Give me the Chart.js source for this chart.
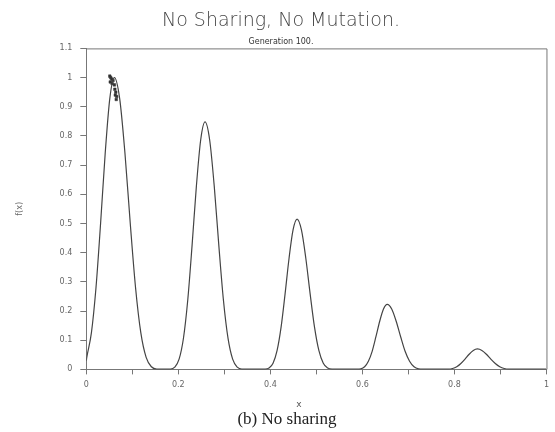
<!DOCTYPE html>
<html>
<head>
<meta charset="utf-8">
<script src="https://cdn.jsdelivr.net/npm/chart.js@4.4.1/dist/chart.umd.min.js"></script>
<style>
  html, body { margin: 0; padding: 0; background: #fff; }
  #contenedor { width: 555px; height: 432px; position: relative; }
</style>
</head>
<body>
<div id="contenedor"><canvas id="grafica" width="555" height="432"></canvas></div>
<script>
// Curva f(x)
const curvaX = [
  0, 0.001, 0.011, 0.021, 0.031, 0.041, 0.051, 0.061, 0.0725, 0.084, 0.0955, 0.107, 0.1185, 0.13, 0.1415, 0.153,
  0.183, 0.1922, 0.2016, 0.211, 0.2204, 0.2298, 0.2392, 0.2486, 0.258, 0.268, 0.278, 0.288, 0.298, 0.308, 0.318, 0.328, 0.338,
  0.3884, 0.3971, 0.4058, 0.4145, 0.4232, 0.4319, 0.4406, 0.4493, 0.458, 0.4675, 0.477, 0.4865, 0.496, 0.5055, 0.515, 0.5245, 0.534,
  0.5884, 0.5966, 0.6048, 0.613, 0.6212, 0.6294, 0.6376, 0.6458, 0.654, 0.6637, 0.6734, 0.6831, 0.6928, 0.7025, 0.7122, 0.7219, 0.7316,
  0.787, 0.796, 0.805, 0.814, 0.823, 0.832, 0.841, 0.85, 0.8597, 0.8694, 0.8791, 0.8888, 0.8985, 0.9082, 0.9179,
  1.0];
const curvaY = [
  0.03, 0.041, 0.125, 0.28, 0.50, 0.74, 0.928, 1.0, 0.928, 0.74, 0.50, 0.28, 0.125, 0.041, 0.009, 0.001,
  0.001, 0.0075, 0.035, 0.106, 0.237, 0.424, 0.628, 0.787, 0.848, 0.787, 0.628, 0.424, 0.237, 0.106, 0.035, 0.0075, 0.001,
  0.001, 0.0045, 0.021, 0.064, 0.144, 0.258, 0.381, 0.478, 0.515, 0.478, 0.381, 0.258, 0.144, 0.064, 0.021, 0.0045, 0.001,
  0.001, 0.002, 0.009, 0.028, 0.062, 0.112, 0.165, 0.207, 0.223, 0.207, 0.165, 0.112, 0.062, 0.028, 0.009, 0.002, 0.001,
  0.001, 0.003, 0.009, 0.020, 0.035, 0.052, 0.065, 0.070, 0.065, 0.052, 0.035, 0.020, 0.009, 0.003, 0.001,
  0.001];

// Individuos de la poblacion (generacion 100)
const poblacionX = [0.051, 0.053, 0.055, 0.052, 0.056, 0.058, 0.061, 0.062, 0.064, 0.063, 0.066, 0.065];
const poblacionY = [1.005, 1.0, 0.995, 0.985, 0.98, 0.99, 0.975, 0.96, 0.95, 0.94, 0.935, 0.925];

const etiquetasX = [0, 0.2, 0.4, 0.6, 0.8, 1];
const titulo = "No Sharing, No Mutation.";
const subtitulo = "Generation 100.";
const nombreEjeX = "x";
const nombreEjeY = "f(x)";
const pie = "(b) No sharing";

// Marco y textos inferiores
const marco = {
  id: "marco",
  afterDraw(chart) {
    const { ctx, chartArea: a } = chart;
    ctx.save();
    ctx.strokeStyle = "#777";
    ctx.lineWidth = 1;
    ctx.beginPath();
    ctx.moveTo(a.left, a.top + 0.5);
    ctx.lineTo(a.right + 0.5, a.top + 0.5);
    ctx.lineTo(a.right + 0.5, a.bottom);
    ctx.stroke();

    ctx.fillStyle = "#555";
    ctx.textAlign = "center";
    ctx.textBaseline = "middle";
    ctx.font = "9px 'DejaVu Sans'";
    ctx.fillText(nombreEjeX, 299, 405);
    ctx.fillStyle = "#222";
    ctx.font = "17px 'Liberation Serif'";
    ctx.fillText(pie, 287, 420);
    ctx.restore();
  }
};

const ctx = document.getElementById("grafica").getContext("2d");

new Chart(ctx, {
  type: "line",
  data: {
    datasets: [
      {
        label: "f(x)",
        data: curvaX.map((x, i) => ({ x: x, y: curvaY[i] })),
        borderColor: "#444",
        borderWidth: 1.2,
        pointRadius: 0,
        cubicInterpolationMode: "monotone",
        fill: false
      },
      {
        type: "scatter",
        label: "poblacion",
        data: poblacionX.map((x, i) => ({ x: x, y: poblacionY[i] })),
        pointStyle: "rect",
        pointRadius: 1.8,
        backgroundColor: "#333",
        borderColor: "#333",
        borderWidth: 0.5
      }
    ]
  },
  options: {
    responsive: false,
    animation: false,
    layout: { padding: { left: 15, right: 8, top: 0, bottom: 36 } },
    plugins: {
      legend: { display: false },
      tooltip: { enabled: false },
      title: {
        display: true,
        text: titulo,
        color: "#444",
        font: { family: "'DejaVu Sans'", size: 19, weight: 200 },
        padding: { top: 10, bottom: 1 }
      },
      subtitle: {
        display: true,
        text: subtitulo,
        color: "#333",
        font: { family: "'DejaVu Sans'", size: 8 },
        padding: { top: 3, bottom: 2 }
      }
    },
    scales: {
      x: {
        type: "linear",
        min: 0,
        max: 1,
        ticks: {
          stepSize: 0.1,
          color: "#666",
          font: { family: "'DejaVu Sans'", size: 8 },
          maxRotation: 0,
          autoSkip: false,
          padding: 6,
          callback: v => {
            const r = Math.round(v * 10) / 10;
            return etiquetasX.includes(r) ? String(r) : "";
          }
        },
        grid: { drawOnChartArea: false, tickLength: 5, color: "#777" },
        border: { color: "#777" }
      },
      y: {
        min: 0,
        max: 1.1,
        ticks: {
          stepSize: 0.1,
          color: "#666",
          font: { family: "'DejaVu Sans'", size: 8 },
          padding: 8,
          callback: v => String(Math.round(v * 10) / 10)
        },
        grid: { drawOnChartArea: false, tickLength: 6, color: "#777" },
        border: { color: "#777" },
        title: {
          display: true,
          text: nombreEjeY,
          color: "#666",
          font: { family: "'DejaVu Sans'", size: 8 },
          padding: { top: 0, bottom: 27 }
        }
      }
    }
  },
  plugins: [marco]
});
</script>
</body>
</html>
